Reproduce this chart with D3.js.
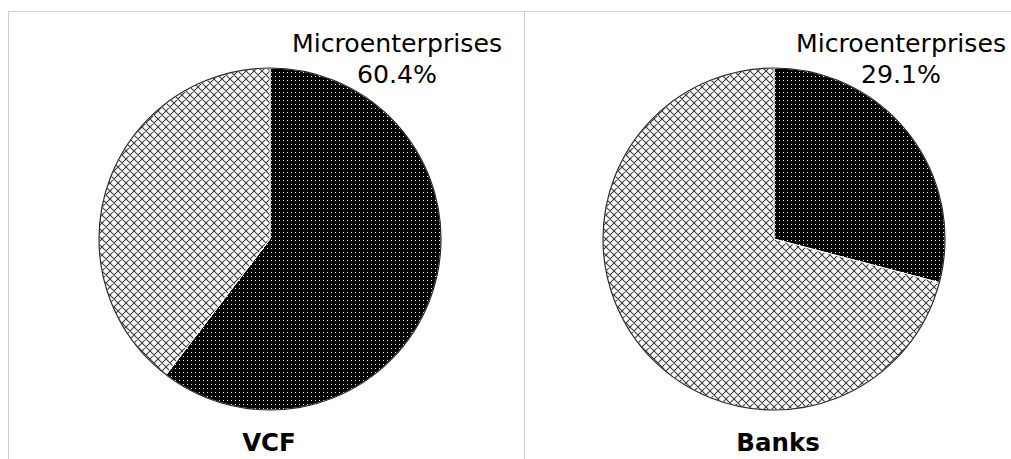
<!DOCTYPE html>
<html>
<head>
<meta charset="utf-8">
<script src="https://cdn.jsdelivr.net/npm/d3@7"></script>
<style>
  html, body { margin: 0; padding: 0; background: #fff; }
  svg { display: block; }
</style>
</head>
<body>
<svg id="chart" width="1011" height="459"></svg>
<script>
// Share of financing that goes to microenterprises, by lender type
const panels = ["VCF", "Banks"];
const segments = ["Microenterprises", "Other"];
const microShare = [60.4, 29.1];
const otherShare = [39.6, 70.9];

const svg = d3.select("#chart");
const W = 1011, H = 459;

// Fill patterns: dotted dark for microenterprises, crosshatch for the rest
const defs = svg.append("defs");
const dots = defs.append("pattern")
  .attr("id", "dots").attr("patternUnits", "userSpaceOnUse")
  .attr("width", 4).attr("height", 4);
dots.append("rect").attr("width", 4).attr("height", 4).attr("fill", "#000");
dots.append("rect").attr("x", 1).attr("y", 1).attr("width", 1).attr("height", 1).attr("fill", "#e8e8e8");

const hatch = defs.append("pattern")
  .attr("id", "hatch").attr("patternUnits", "userSpaceOnUse")
  .attr("width", 8).attr("height", 8);
hatch.append("rect").attr("width", 8).attr("height", 8).attr("fill", "#fff");
hatch.append("path")
  .attr("d", "M0,0L8,8M8,0L0,8M-1,7L1,9M7,-1L9,1M-1,1L1,-1M7,9L9,7")
  .attr("stroke", "#3a3a3a").attr("stroke-width", 1.1).attr("fill", "none");

const fills = d3.scaleOrdinal().domain(segments).range(["url(#dots)", "url(#hatch)"]);

// Panel layout
const x = d3.scaleBand().domain(panels).range([8, 1040]).paddingInner(0);
const borderColor = "#d0d0d0";

svg.append("line").attr("x1", 8).attr("x2", W).attr("y1", 11.5).attr("y2", 11.5)
  .attr("stroke", borderColor);
panels.forEach(p => {
  const x0 = Math.round(x(p)) + 0.5;
  svg.append("line").attr("x1", x0).attr("x2", x0).attr("y1", 11).attr("y2", H)
    .attr("stroke", borderColor);
});

const R = 171;
const cx = [270, 774];
const cy = 239;

const pie = d3.pie().sort(null).value(d => d.value);
const arc = d3.arc().innerRadius(0).outerRadius(R);

panels.forEach((p, i) => {
  const data = [
    { key: segments[0], value: microShare[i] },
    { key: segments[1], value: otherShare[i] }
  ];
  const g = svg.append("g").attr("transform", `translate(${cx[i]},${cy})`);
  g.selectAll("path.slice")
    .data(pie(data))
    .join("path")
    .attr("class", "slice")
    .attr("d", arc)
    .attr("fill", d => fills(d.data.key))
    .attr("stroke", "#fff")
    .attr("stroke-width", 1);
  g.append("circle").attr("r", R).attr("fill", "none")
    .attr("stroke", "#2a2a2a").attr("stroke-width", 1.2);

  // Data label for the microenterprise slice
  const lx = cx[i] + 127;
  const label = svg.append("text")
    .attr("x", lx).attr("y", 52)
    .attr("text-anchor", "middle")
    .attr("font-family", "DejaVu Sans, Verdana, sans-serif")
    .attr("font-size", 25.2)
    .attr("fill", "#000");
  label.append("tspan").attr("x", lx).attr("y", 52).text(segments[0]);
  label.append("tspan").attr("x", lx).attr("y", 83).text(d3.format(".1f")(microShare[i]) + "%");

  // Panel title
  svg.append("text")
    .attr("x", cx[i] + (i === 1 ? 4 : -1)).attr("y", 451)
    .attr("text-anchor", "middle")
    .attr("font-family", "DejaVu Sans, Verdana, sans-serif")
    .attr("font-weight", "bold")
    .attr("font-size", 24.5)
    .attr("fill", "#000")
    .text(p);
});
</script>
</body>
</html>
